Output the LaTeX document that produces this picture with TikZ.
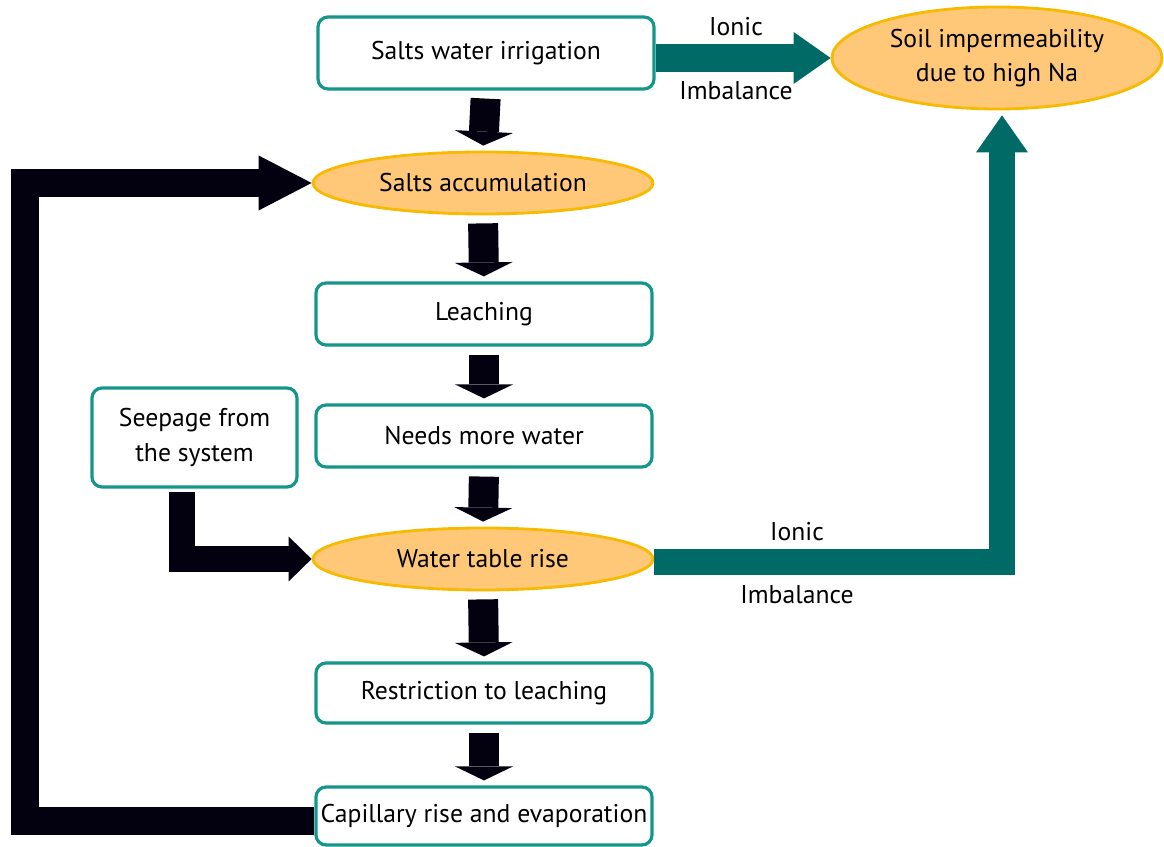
\documentclass[tikz,border=0pt]{standalone}
\usepackage{fontspec}
\setmainfont{PT Sans}
\usetikzlibrary{arrows.meta, calc, positioning, shapes.geometric}
\definecolor{tealdk}{HTML}{006A66}
\definecolor{tealbd}{HTML}{14968A}
\definecolor{ellfill}{HTML}{FFC878}
\definecolor{elldraw}{HTML}{F7BA00}
\definecolor{arrblk}{HTML}{03010F}
\tikzset{
  stepbox/.style  = {draw=tealbd, fill=white, line width=0.9pt, rounded corners=0.1cm,
                     minimum width=3.36cm, minimum height=0.62cm, inner sep=1pt,
                     font=\fontsize{7.3}{9.7}\selectfont, align=center},
  stateell/.style = {ellipse, draw=elldraw, fill=ellfill, line width=0.8pt,
                     minimum width=3.40cm, minimum height=0.62cm, inner sep=0pt,
                     font=\fontsize{7.3}{9.7}\selectfont, align=center},
  downarr/.style  = {draw=arrblk, line width=0.30cm,
                     -{Triangle[length=0.14cm, width=0.58cm, line width=0pt]},
                     shorten <=0.08cm, shorten >=0.05cm},
  looparr/.style  = {draw=arrblk, line width=0.28cm, line join=miter,
                     -{Triangle[length=0.53cm, width=0.55cm, line width=0pt]}},
  seeparr/.style  = {draw=arrblk, line width=0.26cm, line join=miter,
                     -{Triangle[length=0.23cm, width=0.45cm, line width=0pt]}},
  ionarr/.style   = {draw=tealdk, line width=0.28cm, line join=miter,
                     -{Triangle[length=0.37cm, width=0.52cm, line width=0pt]}},
  arrlab/.style   = {font=\fontsize{7.3}{9.7}\selectfont, inner sep=0pt},
}

\begin{document}
\begin{tikzpicture}[x=1cm, y=1cm]
  \useasboundingbox (0,0) rectangle (11.64,8.46);
  \node[stepbox, minimum height=0.72cm] (irr) at (4.86,7.93) {Salts water irrigation};
  \node[stateell, minimum width=3.30cm, minimum height=1.02cm] (soil) at (9.97,7.88)
    {Soil impermeability\\due to high Na};
  \node[stateell] (acc) at (4.83,6.63) {Salts accumulation};
  \node[stepbox] (leach) at (4.84,5.32) {Leaching};
  \node[stepbox] (need) at (4.84,4.10) {Needs more water};
  \node[stepbox, minimum width=2.05cm, minimum height=0.99cm] (seep) at (1.945,4.085)
    {Seepage from\\the system};
  \node[stateell] (wt) at (4.83,2.87) {Water table rise};
  \node[stepbox, minimum height=0.60cm] (restr) at (4.84,1.53) {Restriction to leaching};
  \node[stepbox, minimum height=0.58cm, inner sep=0pt] (cap) at (4.84,0.30)
    {Capillary rise and evaporation};
  \coordinate (fb) at (0.25,0);
  \draw[downarr] (irr.south) -- (acc.north);
  \draw[downarr] (acc.south) -- (leach.north);
  \draw[downarr] (leach.south) -- (need.north);
  \draw[downarr] (need.south) -- (wt.north);
  \draw[downarr] (wt.south) -- (restr.north);
  \draw[downarr] (restr.south) -- (cap.north);
  \draw[ionarr] (irr.east |- soil.west) -- (soil.west);
  \draw[ionarr, line width=0.26cm, shorten >=0.05cm]
    ([yshift=-0.03cm]wt.east) -| ([xshift=0.05cm]soil.south);
  \draw[seeparr] ([xshift=-0.125cm, yshift=-0.03cm]seep.south) |- (wt.west);
  \draw[looparr] ([yshift=-0.05cm]cap.west) -| (fb |- acc.west) -- (acc.west);
  \node[arrlab] (ionA) at (7.36,8.19) {Ionic};
  \node[arrlab] (imbA) at (7.36,7.55) {Imbalance};
  \node[arrlab] (ionB) at (7.97,3.14) {Ionic};
  \node[arrlab] (imbB) at (7.97,2.51) {Imbalance};
\end{tikzpicture}
\end{document}
